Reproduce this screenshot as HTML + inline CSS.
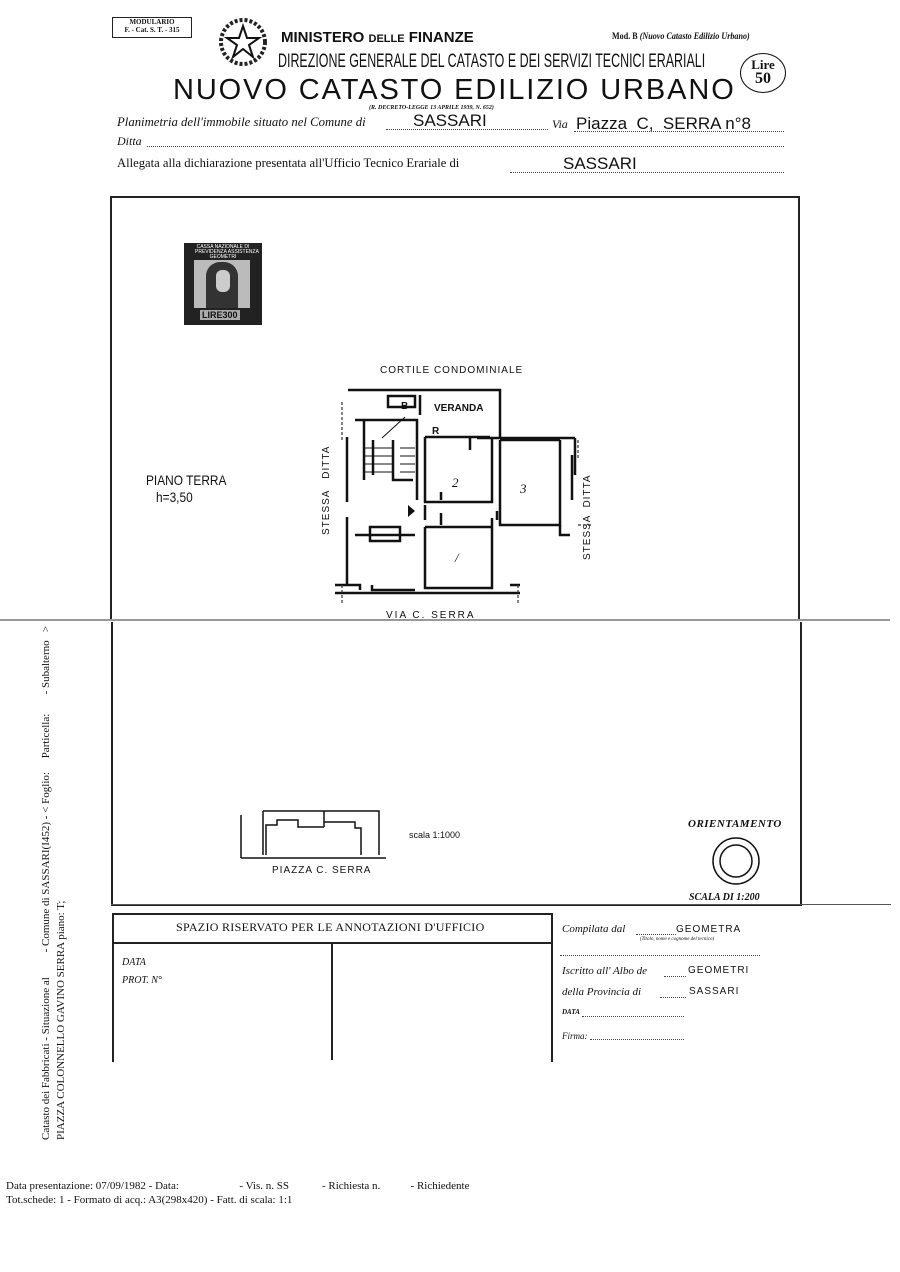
<!DOCTYPE html>
<html><head><meta charset="utf-8"><style>
body{margin:0;width:900px;height:1272px;background:#fff;position:relative;overflow:hidden;font-family:"Liberation Serif",serif;color:#111}
.a{position:absolute;white-space:nowrap}
.s{font-family:"Liberation Sans",sans-serif}
.i{font-style:italic}
.dot{border-bottom:1px dotted #444}
</style></head><body>
<div class="a" style="left:112px;top:17px;width:78px;height:19px;border:1px solid #222;font-size:7px;text-align:center;line-height:8px;font-weight:bold">MODULARIO<br>F. - Cat. S. T. - 315</div>
<svg class="a" style="left:218px;top:14px" width="50" height="56"><circle cx="25" cy="28" r="22" fill="none" stroke="#222" stroke-width="4" stroke-dasharray="3 2"/><polygon points="25,12 29,24 41,24 31,31 35,43 25,35 15,43 19,31 9,24 21,24" fill="#fff" stroke="#111" stroke-width="2"/></svg>
<div class="a s" style="left:281px;top:29px;font-size:15px;font-weight:bold">MINISTERO <span style="font-size:11px">DELLE</span> FINANZE</div>
<div class="a s" style="left:278px;top:51px;font-size:19px;transform:scaleX(0.655);transform-origin:left">DIREZIONE GENERALE DEL CATASTO E DEI SERVIZI TECNICI ERARIALI</div>
<div class="a" style="left:612px;top:31px;font-size:9px;font-weight:bold;transform:scaleX(0.9);transform-origin:left">Mod. B <span class="i">(Nuovo Catasto Edilizio Urbano)</span></div>
<div class="a" style="left:740px;top:53px;width:46px;height:40px;border:1.5px solid #111;border-radius:50%;text-align:center;font-size:13px;font-weight:bold;line-height:14px;padding-top:4px;box-sizing:border-box">Lire<br><span style="font-size:16px">50</span></div>
<div class="a s" style="left:173px;top:74px;font-size:29px;letter-spacing:1.9px">NUOVO CATASTO EDILIZIO URBANO</div>
<div class="a i" style="left:369px;top:105px;font-size:6px;font-weight:bold">(R. DECRETO-LEGGE 13 APRILE 1939, N. 652)</div>
<div class="a i" style="left:117px;top:114px;font-size:13px;transform:scaleX(0.98);transform-origin:left">Planimetria dell'immobile situato nel Comune di</div>
<div class="a dot" style="left:386px;top:129px;width:162px"></div>
<div class="a s" style="left:413px;top:111px;font-size:17px">SASSARI</div>
<div class="a i" style="left:552px;top:117px;font-size:12px">Via</div>
<div class="a dot" style="left:574px;top:131px;width:210px"></div>
<div class="a s" style="left:576px;top:114px;font-size:17px">Piazza &nbsp;C, &nbsp;SERRA n°8</div>
<div class="a i" style="left:117px;top:134px;font-size:12px">Ditta</div>
<div class="a dot" style="left:147px;top:146px;width:637px"></div>
<div class="a" style="left:117px;top:155px;font-size:13px;transform:scaleX(0.97);transform-origin:left">Allegata alla dichiarazione presentata all'Ufficio Tecnico Erariale di</div>
<div class="a dot" style="left:510px;top:172px;width:274px"></div>
<div class="a s" style="left:563px;top:154px;font-size:17px">SASSARI</div>

<div class="a" style="left:110px;top:196px;width:686px;height:422px;border:2px solid #222;border-bottom:none"></div>
<div class="a" style="left:0;top:619px;width:890px;border-top:2px solid #999"></div>
<div class="a" style="left:111px;top:622px;width:687px;height:282px;border:2px solid #222;border-top:none"></div>
<div class="a" style="left:111px;top:904px;width:780px;border-top:1px solid #555"></div>

<div class="a" style="left:184px;top:243px;width:78px;height:82px;background:#222"></div>
<div class="a" style="left:194px;top:260px;width:56px;height:48px;background:#bbb"></div>
<div class="a" style="left:206px;top:262px;width:32px;height:46px;background:#333;border-radius:14px 14px 0 0"></div>
<div class="a" style="left:216px;top:270px;width:14px;height:22px;background:#ccc;border-radius:6px"></div>
<div class="a s" style="left:195px;top:245px;font-size:5px;color:#fff;line-height:5px;text-align:center;width:56px">CASSA NAZIONALE DI<br>PREVIDENZA ASSISTENZA<br>GEOMETRI</div>
<div class="a s" style="left:200px;top:310px;font-size:9px;color:#111;background:#aaa;padding:0 2px;font-weight:bold">LIRE300</div>

<div class="a s" style="left:146px;top:472px;font-size:14px;transform:scaleX(0.85);transform-origin:left">PIANO TERRA</div>
<div class="a s" style="left:156px;top:489px;font-size:14px;transform:scaleX(0.85);transform-origin:left">h=3,50</div>

<svg class="a" style="left:0;top:0" width="900" height="1272">
<g font-family="Liberation Sans" font-size="10" fill="#111">
<text x="380" y="373" letter-spacing="1">CORTILE CONDOMINIALE</text>
<text x="386" y="618" letter-spacing="2">VIA C. SERRA</text>
<text x="401" y="409" font-weight="bold">B</text>
<text x="434" y="411" font-weight="bold">VERANDA</text>
<text x="432" y="434" font-weight="bold">R</text>
<text transform="translate(329,535) rotate(-90)" letter-spacing="1">STESSA &nbsp; DITTA</text>
<text transform="translate(590,560) rotate(-90)" letter-spacing="1">STESSA &nbsp;DITTA</text>
<text x="452" y="487" font-size="13" font-family="Liberation Serif" font-style="italic">2</text>
<text x="520" y="493" font-size="13" font-family="Liberation Serif" font-style="italic">3</text>
<text x="455" y="562" font-size="13" font-family="Liberation Serif" font-style="italic">/</text>
</g>
<g stroke="#111" fill="none" stroke-width="2.5">
<path d="M348 390 H500 V437"/>
<path d="M388 396 H415 V407 H388 Z M420 395 V415"/>
<path d="M347 437 V502 M355 420 H417 V500 M425 437 V502 H492 V437 M425 437 H490 M470 437 V450"/>
<path d="M477 438 H575 M500 440 V525 H560 V440 M500 440 H560 M575 438 V475 M572 455 V500"/>
<path d="M347 517 V585 M425 527 V588 H492 V518 M425 527 H492"/>
<path d="M335 593 H520 M335 585 H360 V590 M372 585 V590 H415 M510 585 H520 M560 525 V535 H570"/>
<path d="M425 505 V520 M441 492 V500 M441 513 V525 M497 511 V520"/>
<path d="M364 420 V480 M393 440 V480 H413 M373 440 V475"/>
<path d="M370 527 H400 V541 H370 Z M355 535 H415"/>
</g>
<g stroke="#111" stroke-width="1">
<path d="M365 448 H393 M365 456 H393 M365 464 H393 M365 472 H393 M400 448 H415 M400 456 H415 M400 464 H415 M400 472 H415"/>
<path d="M382 438 L405 417"/>
</g>
<g stroke="#333" stroke-width="1.2" stroke-dasharray="3 2" fill="none">
<path d="M342 402 V440 M342 585 V605 M518 585 V605 M578 440 V460 M578 525 H592"/>
</g>
<polygon points="408,505 408,517 415,511" fill="#111"/>
<g stroke="#111" stroke-width="1.5" fill="none">
<path d="M241 815 V858 M241 858 H386"/>
<path d="M263 811 H379 V855 M263 811 V855 M266 855 V825 H277 V820 H298 V827 H324 M324 811 V827 M324 827 V822 H355 V828 H361 V855"/>
</g>
<circle cx="736" cy="861" r="23" fill="none" stroke="#111" stroke-width="1.5"/>
<circle cx="736" cy="861" r="16" fill="none" stroke="#111" stroke-width="1.5"/>
</svg>
<div class="a s" style="left:272px;top:865px;font-size:10px;letter-spacing:1px">PIAZZA C. SERRA</div>
<div class="a s" style="left:409px;top:830px;font-size:9px">scala 1:1000</div>
<div class="a i" style="left:688px;top:818px;font-size:11px;font-weight:bold;letter-spacing:0.5px">ORIENTAMENTO</div>
<div class="a i" style="left:689px;top:892px;font-size:10px;font-weight:bold">SCALA DI 1:200</div>

<div class="a" style="left:112px;top:913px;width:437px;height:147px;border:2px solid #222;border-bottom:none"></div>
<div class="a" style="left:112px;top:942px;width:439px;border-top:2px solid #222"></div>
<div class="a" style="left:331px;top:944px;height:116px;border-left:2px solid #222"></div>
<div class="a" style="left:176px;top:920px;font-size:12px;letter-spacing:0.3px">SPAZIO RISERVATO PER LE ANNOTAZIONI D'UFFICIO</div>
<div class="a i" style="left:122px;top:957px;font-size:10px">DATA</div>
<div class="a i" style="left:122px;top:975px;font-size:10px">PROT. N°</div>
<div class="a i" style="left:562px;top:923px;font-size:11px">Compilata dal</div>
<div class="a dot" style="left:636px;top:934px;width:40px"></div>
<div class="a s" style="left:676px;top:924px;font-size:10px;letter-spacing:1px">GEOMETRA</div>
<div class="a i" style="left:640px;top:937px;font-size:5px">(Titolo, nome e cognome del tecnico)</div>
<div class="a dot" style="left:560px;top:955px;width:200px"></div>
<div class="a i" style="left:562px;top:965px;font-size:11px">Iscritto all' Albo de</div>
<div class="a dot" style="left:664px;top:976px;width:22px"></div>
<div class="a s" style="left:688px;top:965px;font-size:10px;letter-spacing:1px">GEOMETRI</div>
<div class="a i" style="left:562px;top:986px;font-size:11px">della Provincia di</div>
<div class="a dot" style="left:660px;top:997px;width:26px"></div>
<div class="a s" style="left:689px;top:986px;font-size:10px;letter-spacing:1px">SASSARI</div>
<div class="a i" style="left:562px;top:1008px;font-size:7px;font-weight:bold">DATA</div>
<div class="a dot" style="left:582px;top:1016px;width:102px"></div>
<div class="a i" style="left:562px;top:1031px;font-size:9px">Firma:</div>
<div class="a dot" style="left:590px;top:1039px;width:94px"></div>

<div class="a" style="left:40px;top:1140px;font-size:11px;transform:rotate(-90deg);transform-origin:left top">Catasto dei Fabbricati - Situazione al &nbsp;&nbsp;&nbsp;&nbsp;&nbsp;&nbsp;&nbsp;&nbsp;- Comune di SASSARI(I452) - &lt; Foglio: &nbsp;&nbsp;&nbsp;&nbsp;Particella: &nbsp;&nbsp;&nbsp;&nbsp;&nbsp;&nbsp;- Subalterno &nbsp;&nbsp;&gt;</div>
<div class="a" style="left:55px;top:1140px;font-size:11px;transform:rotate(-90deg);transform-origin:left top">PIAZZA COLONNELLO GAVINO SERRA piano: T;</div>
<div class="a" style="left:6px;top:1180px;font-size:11px">Data presentazione: 07/09/1982 - Data: &nbsp;&nbsp;&nbsp;&nbsp;&nbsp;&nbsp;&nbsp;&nbsp;&nbsp;&nbsp;&nbsp;&nbsp;&nbsp;&nbsp;&nbsp;&nbsp;&nbsp;&nbsp;&nbsp;&nbsp;&nbsp;- Vis. n. SS &nbsp;&nbsp;&nbsp;&nbsp;&nbsp;&nbsp;&nbsp;&nbsp;&nbsp;&nbsp;&nbsp;- Richiesta n. &nbsp;&nbsp;&nbsp;&nbsp;&nbsp;&nbsp;&nbsp;&nbsp;&nbsp;&nbsp;- Richiedente</div>
<div class="a" style="left:6px;top:1194px;font-size:11px">Tot.schede: 1 - Formato di acq.: A3(298x420) - Fatt. di scala: 1:1</div>
</body></html>
